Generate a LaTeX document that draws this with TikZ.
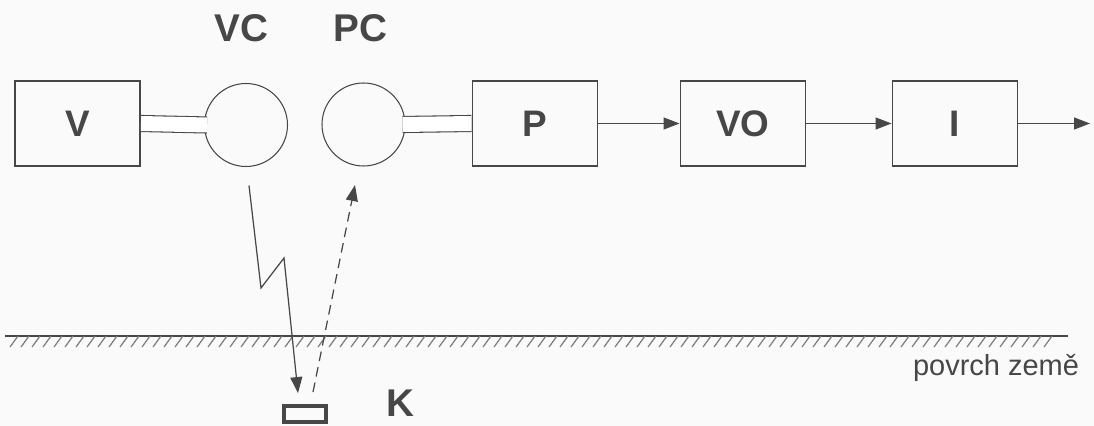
\documentclass[tikz,border=0pt]{standalone}
\usepackage{fontspec}
\setmainfont{Liberation Sans}
\usetikzlibrary{arrows.meta}

\colorlet{ink}{black!72}

\tikzset{
  block/.style={draw=ink, line width=1.1pt, minimum width=2.5cm, minimum height=1.7cm,
    text=ink, font=\fontsize{21}{25}\selectfont\bfseries},
  antenna/.style={draw=ink, line width=0.6pt, circle, minimum size=1.66cm, inner sep=0pt},
  feed/.style={draw=ink, line width=0.6pt, double=white, double distance=0.3cm},
  flow/.style={draw=ink, line width=0.7pt, -{Triangle[length=0.32cm,width=0.24cm]}},
  tag/.style={text=ink, font=\fontsize{22}{26}\selectfont\bfseries},
}

\begin{document}
\begin{tikzpicture}

	\fill[black!2] (0,0) rectangle (21.88,8.52);
	\useasboundingbox (0,0) rectangle (21.88,8.52);

	% Row
	\def\rowy{6.05}

	% Blocks
	\node[block] (V)  at (1.55,\rowy)  {V};
	\node[block] (P)  at (10.7,\rowy)  {P};
	\node[block] (VO) at (14.86,\rowy) {VO};
	\node[block] (I)  at (19.1,\rowy)  {I};

	% Antennas
	\node[antenna] (VC) at (4.92,6.02) {};
	\node[antenna] (PC) at (7.27,6.03) {};
	\node[tag] (vctag) at (4.83,7.95) {VC};
	\node[tag] (pctag) at (7.21,7.95) {PC};

	% Feed lines
	\draw[feed] (V.east) -- ([xshift=0.06cm]VC.west);
	\draw[feed] ([xshift=-0.06cm]PC.east) -- (P.west);

	% Signal chain
	\coordinate (out) at (21.8,\rowy);
	\draw[flow] (P) -- (VO);
	\draw[flow] (VO) -- (I);
	\draw[flow] (I) -- (out);

	% Ground
	\draw[ink, line width=0.6pt] (0.1,1.8) -- (21.36,1.8);
	\foreach \i in {0,...,94}
		\draw[ink!70, line width=0.7pt] ({0.2+0.22*\i},1.58) -- ++(0.16,0.22);
	\node[text=ink, font=\fontsize{16.5}{19}\selectfont] (ground) at (19.92,1.16) {povrch země};

	% Target
	\node[draw=ink, line width=2.2pt, minimum width=0.84cm, minimum height=0.32cm, inner sep=0pt] (K) at (6.1,0.24) {};
	\node[tag] (ktag) at (8.0,0.46) {K};

	% Waves
	\coordinate (zs) at ([xshift=0.06cm, yshift=-0.37cm]VC.south);
	\draw[flow] (zs) -- (5.22,2.76) -- (5.68,3.36) -- ([xshift=-0.14cm, yshift=0.22cm]K.north);
	\draw[flow, dash pattern=on 5.5pt off 3.5pt] ([xshift=0.16cm, yshift=0.24cm]K.north) -- ([xshift=-0.17cm, yshift=-0.37cm]PC.south);

\end{tikzpicture}
\end{document}
